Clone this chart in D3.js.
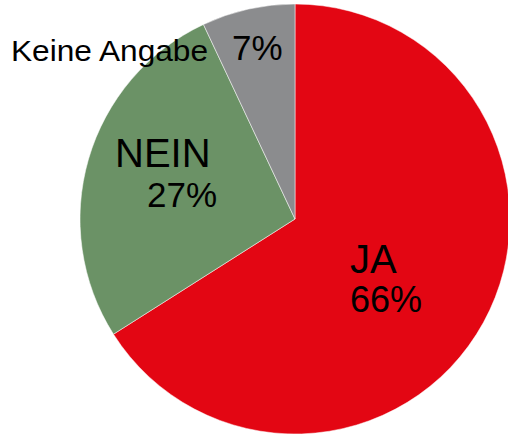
<!DOCTYPE html>
<html>
<head>
<meta charset="utf-8">
<script src="https://cdn.jsdelivr.net/npm/d3@7"></script>
<style>
  html, body { margin: 0; padding: 0; background: #fff; }
  text { font-family: "Liberation Sans", Arial, sans-serif; fill: #000; }
</style>
</head>
<body>
<div id="chart"></div>
<script>
// Data
const categories = ["JA", "NEIN", "Keine Angabe"];
const values = [66, 27, 7];
const sliceColors = ["#e30613", "#6b9266", "#8b8c8e"];

const WIDTH = 508;
const HEIGHT = 434;
const cx = 295, cy = 219, R = 215;

const svg = d3.select("#chart")
  .append("svg")
  .attr("width", WIDTH)
  .attr("height", HEIGHT);

const g = svg.append("g")
  .attr("transform", "translate(" + cx + "," + cy + ")");

const pie = d3.pie().sort(null).value((d) => d);
const arc = d3.arc().innerRadius(0).outerRadius(R);

g.selectAll("path")
  .data(pie(values))
  .enter()
  .append("path")
  .attr("d", arc)
  .attr("fill", (d, i) => sliceColors[i])
  .attr("stroke", "#fff")
  .attr("stroke-width", 0.5);

// Labels (offsets from pie centre)
const labelPos = [
  { name: [55, 54], pct: [55, 93], nameSize: 40, pctSize: 36, len: null },
  { name: [-180, -52], pct: [-148, -12], nameSize: 40, pctSize: 35, len: null },
  { name: [-284, -158], pct: [-63, -159], nameSize: 30, pctSize: 35, len: 197 }
];

categories.forEach((c, i) => {
  const p = labelPos[i];
  const t = g.append("text")
    .attr("x", p.name[0])
    .attr("y", p.name[1])
    .style("font-size", p.nameSize + "px")
    .text(c);
  if (p.len) t.attr("textLength", p.len).attr("lengthAdjust", "spacingAndGlyphs");
  g.append("text")
    .attr("x", p.pct[0])
    .attr("y", p.pct[1])
    .style("font-size", p.pctSize + "px")
    .text(values[i] + "%");
});
</script>
</body>
</html>
